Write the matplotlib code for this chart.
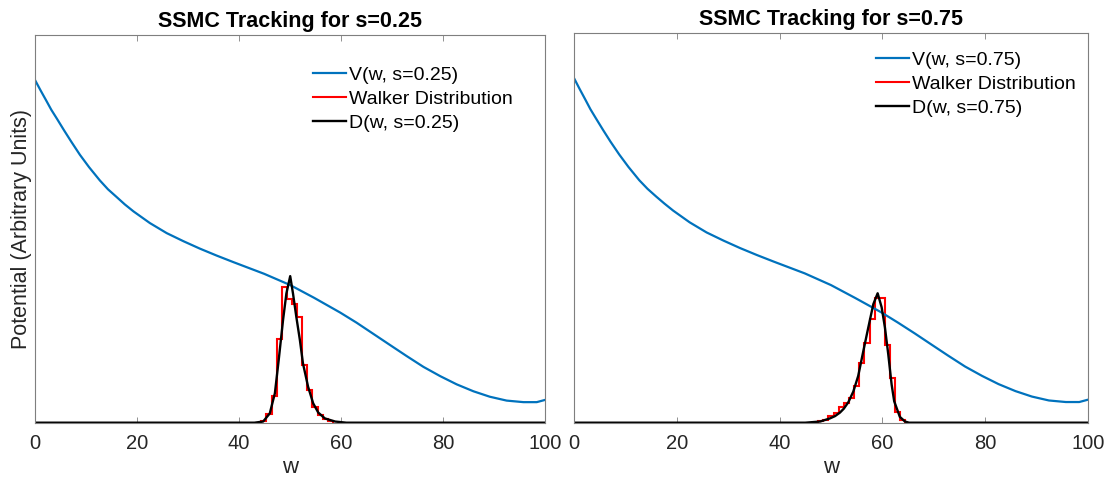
import numpy as np
import matplotlib
matplotlib.use("Agg")
from matplotlib import pyplot as plt

plt.rcParams['font.family'] = ['Liberation Sans', 'DejaVu Sans']

# potential curves (arbitrary units, axis fraction)
w_V = [0, 1.1, 2.2, 3.2, 4.3, 5.7, 7.1, 8.8, 10.6, 12.7, 14.3, 16.0, 17.6, 19.3, 22.5,
       25.8, 29.1, 32.3, 35.6, 38.9, 42.1, 44.9, 50, 54.7, 59.8, 63.0, 66.3, 69.6, 72.8,
       76.1, 79.4, 82.6, 85.9, 89.1, 92.4, 95.7, 98.3, 100]
V_left = [0.884, 0.857, 0.831, 0.807, 0.784, 0.754, 0.725, 0.691, 0.659, 0.625, 0.602,
          0.582, 0.563, 0.545, 0.515, 0.489, 0.468, 0.449, 0.431, 0.414, 0.398, 0.384,
          0.355, 0.322, 0.284, 0.258, 0.229, 0.200, 0.172, 0.144, 0.120, 0.099, 0.081,
          0.067, 0.057, 0.053, 0.053, 0.059]
V_right = [0.884, 0.856, 0.829, 0.804, 0.780, 0.750, 0.721, 0.688, 0.656, 0.622, 0.600,
           0.580, 0.562, 0.544, 0.514, 0.488, 0.467, 0.448, 0.430, 0.413, 0.397, 0.383,
           0.353, 0.320, 0.283, 0.257, 0.229, 0.200, 0.172, 0.144, 0.120, 0.099, 0.081,
           0.067, 0.057, 0.053, 0.053, 0.059]

# walker histograms
edges_left = [44.35, 45.35, 46.35, 47.35, 48.35, 49.35, 50.35, 51.35, 52.35, 53.35,
              54.35, 55.35, 56.35, 57.35, 58.35]
hist_left = [0.005, 0.022, 0.069, 0.216, 0.350, 0.319, 0.305, 0.272, 0.150, 0.084,
             0.041, 0.020, 0.009, 0.004]
edges_right = [47.5, 48.5, 49.5, 50.5, 51.5, 52.5, 53.5, 54.5, 55.5, 56.5, 57.5, 58.5,
               59.5, 60.5, 61.5, 62.5, 63.5, 64.5]
hist_right = [0.004, 0.008, 0.018, 0.026, 0.039, 0.051, 0.064, 0.094, 0.154, 0.205,
              0.265, 0.321, 0.321, 0.199, 0.115, 0.028, 0.006]

# D(w, s)
w_D_left = [0, 43, 44.7, 46.0, 47.0, 47.75, 48.6, 49.25, 50.0, 50.55, 51.2, 51.9, 52.5,
            53.5, 54.5, 55.5, 56.8, 58.8, 61, 100]
D_left = [0, 0, 0.003, 0.024, 0.076, 0.162, 0.265, 0.333, 0.378, 0.333, 0.273, 0.213,
          0.153, 0.093, 0.050, 0.026, 0.011, 0.003, 0, 0]
w_D_right = [0, 45, 47.9, 49.8, 50.8, 51.75, 52.5, 53.4, 54.35, 55.3, 56.3, 57.26, 58.24,
             59.08, 59.86, 60.5, 61.15, 61.8, 62.3, 63.4, 64.4, 65.2, 100]
D_right = [0, 0, 0.003, 0.011, 0.017, 0.026, 0.036, 0.053, 0.080, 0.120, 0.184, 0.244,
           0.304, 0.332, 0.296, 0.244, 0.175, 0.098, 0.055, 0.015, 0.003, 0, 0]

panels = [
    ("0.25", V_left, edges_left, hist_left, w_D_left, D_left,
     [0.0316, 0.1157, 0.4611, 0.8111], (0.9365, 0.919)),
    ("0.75", V_right, edges_right, hist_right, w_D_right, D_right,
     [0.5185, 0.1157, 0.4643, 0.8156], (0.976, 0.953)),
]

fig = plt.figure(figsize=(11.07, 4.78), dpi=100)

for i, (s, V, edges, hist, wD, D, rect, leg_pos) in enumerate(panels):
    ax = fig.add_axes(rect)
    ax.plot(w_V, V, color='#0072BD', lw=1.6, label="V(w, s=%s)" % s)
    ax.stairs(hist, edges, color='red', lw=1.5, label="Walker Distribution")
    ax.plot(wD, D, color='black', lw=1.7, label="D(w, s=%s)" % s)
    ax.set_xlim(0, 100)
    ax.set_ylim(0, 1)
    ax.set_xticks([0, 20, 40, 60, 80, 100])
    ax.set_yticks([])
    ax.tick_params(axis='x', direction='in', top=True, length=4, width=0.6,
                   labelcolor='#262626', labelsize=14.5, pad=8, color='#7f7f7f')
    for sp in ax.spines.values():
        sp.set_color('#7f7f7f')
        sp.set_linewidth(0.8)
    ax.set_title("SSMC Tracking for s=%s" % s, fontweight='bold', fontsize=15.5, pad=6)
    ax.set_xlabel("w", fontsize=16, color='#262626', labelpad=3)
    if i == 0:
        ax.set_ylabel("Potential (Arbitrary Units)", fontsize=15.5, color='#262626', labelpad=2)
    ax.legend(loc='upper right', bbox_to_anchor=leg_pos, frameon=False, fontsize=14,
              handlelength=1.7, handletextpad=0.15, labelspacing=0.33,
              borderaxespad=0, borderpad=0)

plt.savefig("out.png", dpi=100)
